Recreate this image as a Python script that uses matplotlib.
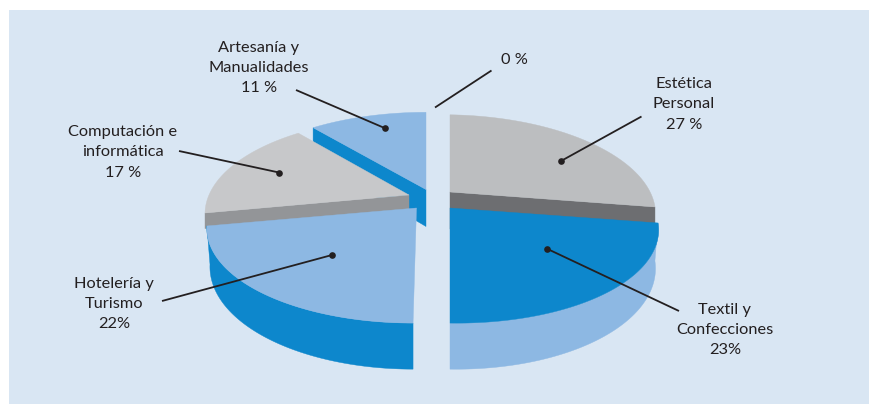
import numpy as np
import matplotlib
matplotlib.use('Agg')
import matplotlib.pyplot as plt
from matplotlib.patches import Polygon, Rectangle

plt.rcParams['font.family'] = ['Lato', 'DejaVu Sans']

categories = ['Estética\nPersonal', 'Textil y\nConfecciones', 'Hotelería y\nTurismo',
              'Computación e\ninformática', 'Artesanía y\nManualidades', '']
values = [27, 23, 22, 17, 11, 0]
value_labels = ['27 %', '23%', '22%', '17 %', '11 %', '0 %']

top_colors = ['#bcbec0', '#0d87cc', '#8db8e3', '#c7c8ca', '#8db8e3', 'none']
side_colors = ['#6d6e71', '#8db8e3', '#0d87cc', '#939598', '#0d87cc', 'none']

# where each exploded slice sits, in pixels of the 869x404 picture
apex = [(450, 192), (450, 208), (416.5, 208), (409, 195), (426, 189.5), (430, 190)]
rx = [201.5, 204.5, 205, 200, 204, 200]
lean = [0, 0, 0.03, 0, 0, 0]
tilt = [0.015, 0.015, 0, 0, 0, 0]
cut_depth = [37, 37, 37, 15, 37, 0]
draw_order = [4, 0, 3, 1, 2]

label_xy = [(684, 104.5), (725, 330), (114, 304), (123, 152.5), (259, 68), (514, 60)]
line_from = [(641.5, 116.5), (679, 311), (162, 301), (179, 151), (296, 90), (491.5, 70.5)]
line_to = [(561, 161), (546.5, 248.5), (332, 255), (279, 172.5), (384.5, 128), (435, 107.5)]

RY = 92.4
K = 0.197
DEPTH = 37


def project(i, theta, depth=0.0, xscale=1.0):
    # simple perspective: far side of the disc is squashed, near side stretched
    s = 1 + K * np.cos(theta)
    dx = rx[i] * np.sin(theta) / s
    dy = -RY * np.cos(theta) / s
    x = apex[i][0] + dx * xscale + lean[i] * -dy
    y = apex[i][1] + dy + np.where(dx > 0, tilt[i] * dx, 0) + depth / s
    return x, y


fig = plt.figure(figsize=(8.69, 4.04), dpi=100)
ax = fig.add_axes([0, 0, 1, 1])
ax.set_xlim(0, 869)
ax.set_ylim(404, 0)
ax.axis('off')
ax.add_patch(Rectangle((9, 10), 860, 394, color='#d9e6f3', lw=0, zorder=0))

edges = np.cumsum([0] + values) / sum(values) * 2 * np.pi

z = 1
for i in draw_order:
    t = np.linspace(edges[i], edges[i + 1], 120)
    x, y = project(i, t)
    ax_x, ax_y = apex[i]

    # cut face that looks towards the viewer
    if i in (0, 3, 4):
        e = edges[i + 1] if i == 0 else edges[i]
        ex, ey = project(i, e)
        ex2, ey2 = project(i, e, cut_depth[i])
        face = [(ax_x, ax_y), (ex, ey), (ex2, ey2), (ax_x, ax_y + cut_depth[i])]
        ax.add_patch(Polygon(face, fc=side_colors[i], ec=side_colors[i], lw=0.3, zorder=z))
        z += 1

    # outer wall, only the front slices show it
    if i in (1, 2):
        bx, by = project(i, t, DEPTH, 0.985)
        wall = np.column_stack([np.r_[x, bx[::-1]], np.r_[y, by[::-1]]])
        ax.add_patch(Polygon(wall, fc=side_colors[i], ec=side_colors[i], lw=0.3, zorder=z))
        z += 1

    top = np.column_stack([np.r_[ax_x, x], np.r_[ax_y, y]])
    ax.add_patch(Polygon(top, fc=top_colors[i], ec=top_colors[i], lw=0.3, zorder=z))
    z += 1

for i in range(len(values)):
    ax.plot([line_from[i][0], line_to[i][0]], [line_from[i][1], line_to[i][1]],
            color='#231f20', lw=1.3, solid_capstyle='butt', zorder=50)
    if values[i] > 0:
        ax.plot(*line_to[i], 'o', color='#231f20', ms=4.8, mew=0, zorder=51)
    txt = value_labels[i] if categories[i] == '' else categories[i] + '\n' + value_labels[i]
    ax.text(label_xy[i][0], label_xy[i][1], txt, ha='center', va='center', ma='center',
            fontsize=11.8, color='#231f20', linespacing=1.55, zorder=60)

fig.savefig('out.png', dpi=100)
